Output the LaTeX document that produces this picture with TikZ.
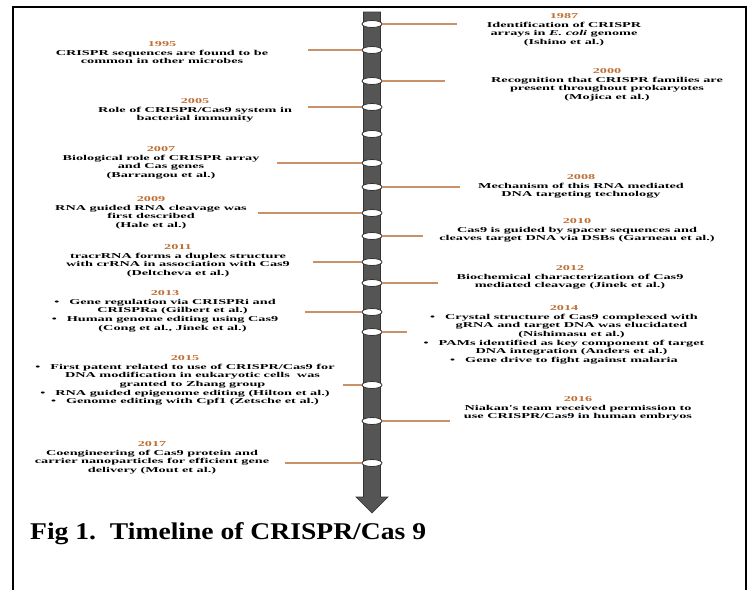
\documentclass[tikz,border=0pt]{standalone}
\usepackage{fontspec}
\usetikzlibrary{shapes.geometric}
\newfontfamily\evfont{Liberation Serif}[FakeStretch=1.9]
\newfontfamily\capfont{Liberation Serif}[FakeStretch=1.15]
\definecolor{yearcol}{HTML}{BF6F34}
\definecolor{tickcol}{HTML}{C8916A}
\definecolor{spinecol}{HTML}{555555}
\definecolor{rimcol}{HTML}{333333}
\newcommand{\yr}[1]{\textcolor{yearcol}{#1}}
\newcommand{\bul}{\textbullet\hspace{10pt}}
\newcommand{\ind}{\hphantom{\textbullet\hspace{10pt}}}
\tikzset{
  event/.style={font=\evfont\bfseries\fontsize{7.5}{8.6}\selectfont,align=center,inner sep=0pt,anchor=north},
  ring/.style={ellipse,draw=rimcol,fill=white,line width=0.8pt,minimum width=20pt,minimum height=7pt,inner sep=0pt},
  tick/.style={draw=tickcol,line width=1.4pt},
}
\begin{document}
\begin{tikzpicture}[x=1pt,y=-1pt]
    \useasboundingbox (0,0) rectangle (751,590);
    %% Frame
    \draw[line width=2.5pt] (13,590) -- (13,7) -- (746,7) -- (746,590);
    %% Spine
    \filldraw[fill=spinecol,draw=rimcol,line width=0.6pt] (363.5,12) -- (380.5,12) -- (380.5,497) -- (388,497) -- (372,513) -- (356,497) -- (363.5,497) -- cycle;
    \foreach \y [count=\i] in {24,50,81,107,134,163,187,213,236,262,283,312,332,385,421,463}
        \node[ring] (r\i) at (372,\y) {};
    %% Right side
    \node[event] (e1987) at (564,13.5) {\yr{1987}\\Identification of CRISPR\\arrays in \textit{E. coli} genome\\(Ishino et al.)};
    \node[event] (e2000) at (607,68.5) {\yr{2000}\\Recognition that CRISPR families are\\present throughout prokaryotes\\(Mojica et al.)};
    \node[event] (e2008) at (581,174.5) {\yr{2008}\\Mechanism of this RNA mediated\\DNA targeting technology};
    \node[event] (e2010) at (577,218.5) {\yr{2010}\\Cas9 is guided by spacer sequences and\\cleaves target DNA via DSBs (Garneau et al.)};
    \node[event] (e2012) at (570,265.5) {\yr{2012}\\Biochemical characterization of Cas9\\mediated cleavage (Jinek et al.)};
    \node[event] (e2014) at (564,305.5) {\yr{2014}\\\bul Crystal structure of Cas9 complexed with\\\ind gRNA and target DNA was elucidated\\\ind (Nishimasu et al.)\\\bul PAMs identified as key component of target\\\ind DNA integration (Anders et al.)\\\bul Gene drive to fight against malaria};
    \node[event] (e2016) at (578,396.5) {\yr{2016}\\Niakan's team received permission to\\use CRISPR/Cas9 in human embryos};
    %% Left side
    \node[event] (e1995) at (162,41.5) {\yr{1995}\\CRISPR sequences are found to be\\common in other microbes};
    \node[event] (e2005) at (195,98.5) {\yr{2005}\\Role of CRISPR/Cas9 system in\\bacterial immunity};
    \node[event] (e2007) at (161,146.5) {\yr{2007}\\Biological role of CRISPR array\\and Cas genes\\(Barrangou et al.)};
    \node[event] (e2009) at (151,196.5) {\yr{2009}\\RNA guided RNA cleavage was\\first described\\(Hale et al.)};
    \node[event] (e2011) at (178,244.5) {\yr{2011}\\tracrRNA forms a duplex structure\\with crRNA in association with Cas9\\(Deltcheva et al.)};
    \node[event] (e2013) at (165,290.5) {\yr{2013}\\\bul Gene regulation via CRISPRi and\\\ind CRISPRa (Gilbert et al.)\\\bul Human genome editing using Cas9\\\ind (Cong et al., Jinek et al.)};
    \node[event] (e2015) at (185,355.5) {\yr{2015}\\\bul First patent related to use of CRISPR/Cas9 for\\\ind DNA modification in eukaryotic cells\ \ was\\\ind granted to Zhang group\\\bul RNA guided epigenome editing (Hilton et al.)\\\bul Genome editing with Cpf1 (Zetsche et al.)};
    \node[event] (e2017) at (152,441.5) {\yr{2017}\\Coengineering of Cas9 protein and\\carrier nanoparticles for efficient gene\\delivery (Mout et al.)};
    %% Ticks
    \foreach \i/\x/\y in {1/457/24,3/445/81,7/460/187,9/423/236,11/438/283,13/407/332,15/450/421} {
        \coordinate (t\i) at (\x,\y);
        \draw[tick] (r\i.east) -- (t\i);
    }
    \foreach \i/\x/\y in {2/308/50,4/308/107,6/277/163,8/258/213,10/313/262,12/305/312,14/343/385,16/285/463} {
        \coordinate (t\i) at (\x,\y);
        \draw[tick] (t\i) -- (r\i.west);
    }
    %% Caption
    \node[font=\capfont\bfseries\fontsize{24}{28}\selectfont,anchor=base west,inner sep=0pt] (title) at (30,539) {Fig 1.\ \ Timeline of CRISPR/Cas 9};
\end{tikzpicture}
\end{document}
